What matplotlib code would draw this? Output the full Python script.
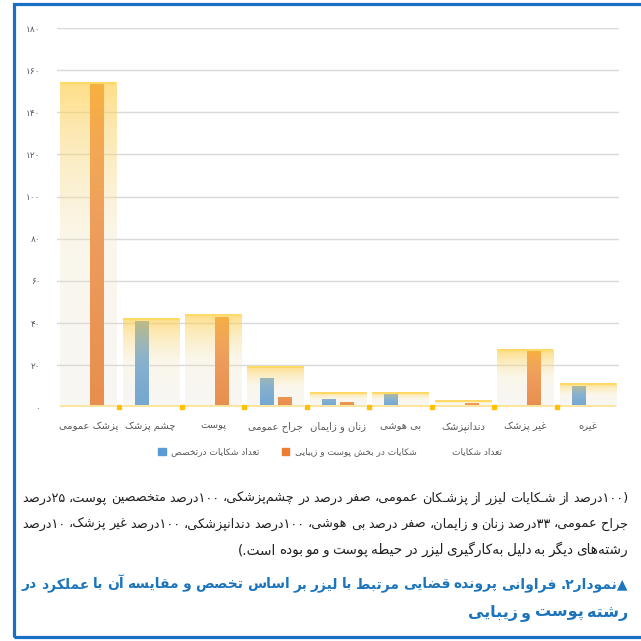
import numpy as np
import matplotlib
matplotlib.use("Agg")
import matplotlib.pyplot as plt
from matplotlib.patches import Patch, Rectangle

# chart data
categories = ["پزشک عمومی", "چشم پزشک", "پوست", "جراح عمومی", "زنان و زایمان",
              "بی هوشی", "دندانپزشک", "غیر پزشک", "غیره"]
total_complaints = [154, 42, 44, 19, 7, 7, 3, 27, 11]
specialty_complaints = [0, 41, 0, 14, 4, 7, 1, 0, 10]
skin_complaints = [154, 0, 43, 5, 2.5, 0, 2, 27, 1]
y_ticks = [0, 20, 40, 60, 80, 100, 120, 140, 160, 180]
series_labels = ["تعداد  شکایات درتخصص", "شکایات در بخش پوست و زیبایی", "تعداد شکایات"]

note_lines = [
    "(۱۰۰درصد از شـکایات لیزر از پزشـکان عمومی، صفر درصد در چشم‌پزشکی، ۱۰۰درصد متخصصین پوست، ۲۵درصد",
    "جراح عمومی، ۳۳درصد زنان و زایمان، صفر درصد بی هوشی، ۱۰۰درصد دندانپزشکی، ۱۰۰درصد غیر پزشک، ۱۰درصد",
    "رشته‌های دیگر به دلیل به‌کارگیری لیزر در حیطه پوست و مو بوده است.)",
]
caption_lines = [
    "▲نمودار۲. فراوانی پرونده قضایی مرتبط با لیزر بر اساس تخصص و مقایسه آن با عملکرد در",
    "رشته پوست و زیبایی",
]

# --- minimal persian shaping + rtl ordering (matplotlib has no bidi support) ---
DUAL = {"ب": 0xFE8F, "پ": 0xFB56, "ت": 0xFE95, "ث": 0xFE99, "ج": 0xFE9D, "چ": 0xFB7A,
        "ح": 0xFEA1, "خ": 0xFEA5, "س": 0xFEB1, "ش": 0xFEB5, "ص": 0xFEB9, "ض": 0xFEBD,
        "ط": 0xFEC1, "ظ": 0xFEC5, "ع": 0xFEC9, "غ": 0xFECD, "ف": 0xFED1, "ق": 0xFED5,
        "ک": 0xFB8E, "گ": 0xFB92, "ل": 0xFEDD, "م": 0xFEE1, "ن": 0xFEE5, "ه": 0xFEE9,
        "ی": 0xFBFC, "ئ": 0xFE89}
RIGHT = {"ا": 0xFE8D, "آ": 0xFE81, "د": 0xFEA9, "ذ": 0xFEAB, "ر": 0xFEAD, "ز": 0xFEAF,
         "ژ": 0xFB8A, "و": 0xFEED}
TATWEEL = "ـ"
DIGITS = set("0123456789۰۱۲۳۴۵۶۷۸۹")
MIRROR = {"(": ")", ")": "("}


def shape(word):
    out = []
    for i, c in enumerate(word):
        if c not in DUAL and c not in RIGHT:
            out.append(c)
            continue
        prev = word[i - 1] if i > 0 else ""
        nxt = word[i + 1] if i + 1 < len(word) else ""
        jp = prev in DUAL or prev == TATWEEL
        jn = c in DUAL and (nxt in DUAL or nxt in RIGHT or nxt == TATWEEL)
        k = 3 if (jp and jn) else 2 if jn else 1 if jp else 0
        out.append(chr(DUAL.get(c, RIGHT.get(c)) + k))
    return "".join(out).replace("\u200c", "")


def bidi_word(word):
    segs = []
    for c in word:
        isd = c in DIGITS
        if segs and segs[-1][0] == isd:
            segs[-1][1] += c
        else:
            segs.append([isd, c])
    res = ""
    for isd, s in reversed(segs):
        res += s if isd else "".join(MIRROR.get(c, c) for c in reversed(s))
    return res


def rtl_words(text):
    return [bidi_word(shape(w)) for w in text.split(" ") if w]


def rtl(text):
    return " ".join(reversed(rtl_words(text)))


def fa_num(v):
    return str(v).translate(str.maketrans("0123456789", "۰۱۲۳۴۵۶۷۸۹"))


W = H = 641
fig = plt.figure(figsize=(W / 100, H / 100), dpi=100)
plt.rcParams["font.family"] = ["DejaVu Sans"]

ax = fig.add_axes([57 / W, 1 - 407.3 / H, 562 / W, (407.3 - 28) / H])
x = np.arange(len(categories))

ax.bar(x - 0.144, specialty_complaints, width=0.225, color="#5b9bd5", zorder=2)
ax.bar(x + 0.144, skin_complaints, width=0.225, color="#ed7d31", zorder=2)

# gradient overlay for the total bars
n = 200
t = np.linspace(1, 0, n)  # 1 at top, 0 at bottom
rgba = np.zeros((n, 1, 4))
rgba[:, 0, 0] = np.interp(t, [0, 0.5, 1], [215, 240, 255]) / 255
rgba[:, 0, 1] = np.interp(t, [0, 0.5, 1], [215, 228, 205]) / 255
rgba[:, 0, 2] = np.interp(t, [0, 0.5, 1], [200, 190, 70]) / 255
rgba[:, 0, 3] = np.interp(t, [0, 0.5, 0.85, 1], [0.2, 0.3, 0.52, 0.65])
for xi, tv in zip(x, total_complaints):
    ax.imshow(rgba, extent=(xi - 0.45, xi + 0.45, 0, tv), aspect="auto",
              interpolation="bilinear", zorder=3)
ax.hlines(total_complaints, x - 0.45, x + 0.45, color="#ffd966", lw=1.5, zorder=4)

# thin baseline strip and separators
ax.bar(x, 1.2, width=0.9, bottom=-0.3, color="#fbe5a0", zorder=4)
ax.plot(x[:-1] + 0.5, np.zeros(len(x) - 1), "s", color="#ffc000", ms=3.5, zorder=5,
        clip_on=False)

ax.set_xlim(-0.5, len(categories) - 0.5)
ax.set_ylim(0, 180)
ax.set_yticks(y_ticks)
ax.set_yticklabels([fa_num(v) for v in y_ticks])
ax.set_xticks(x)
ax.set_xticklabels([rtl(c) for c in categories])
ax.tick_params(axis="y", length=0, pad=12, labelsize=6.5, labelcolor="#595959")
ax.tick_params(axis="x", length=0, pad=10, labelsize=7.2, labelcolor="#595959")
ax.yaxis.grid(True, color="#d9d9d9", lw=1)
ax.set_axisbelow(True)
for s in ax.spines.values():
    s.set_visible(False)

handles = [Patch(color="#5b9bd5"), Patch(color="#ed7d31"),
           Patch(facecolor="none", edgecolor="none")]
leg = fig.legend(handles, [rtl(s) for s in series_labels], ncol=3, loc="center",
                 bbox_to_anchor=(330 / W, 1 - 452 / H), frameon=False, fontsize=6.5,
                 handlelength=0.8, handleheight=0.8, handletextpad=0.6,
                 columnspacing=2.5)
for txt in leg.get_texts():
    txt.set_color("#595959")

# frame around the figure (right side runs off the canvas)
fig.add_artist(Rectangle((13.5 / W, 1 - 636.5 / H), 1.0, 633 / H,
                         transform=fig.transFigure, fill=False, ec="#1a6fc4", lw=2.3))

# note + caption text, right aligned and justified like the source
renderer = fig.canvas.get_renderer()
x_right, x_left = 628, 22


def place_line(text, y_px, justify, fontsize, **kw):
    words = rtl_words(text)
    while True:
        objs = [fig.text(0, 1 - y_px / H, w, ha="left", va="baseline",
                         fontsize=fontsize, **kw) for w in words]
        widths = [o.get_window_extent(renderer).width for o in objs]
        space = fontsize * 0.3
        gap = (x_right - x_left - sum(widths)) / max(len(words) - 1, 1)
        if gap >= space or not justify:
            break
        for o in objs:
            o.remove()
        fontsize -= 0.25
    if not justify:
        gap = space
    pos = x_right
    for o, w in zip(objs, widths):
        pos -= w
        o.set_x(pos / W)
        pos -= gap


body = dict(color="#231f20")
place_line(note_lines[0], 502, True, 9.8, **body)
place_line(note_lines[1], 528, True, 9.8, **body)
place_line(note_lines[2], 554, False, 9.8, **body)
cap = dict(color="#1c75bc", fontweight="bold")
place_line(caption_lines[0], 588, True, 11.5, **cap)
place_line(caption_lines[1], 617, False, 11.5, **cap)

fig.savefig("out.png", dpi=100)
